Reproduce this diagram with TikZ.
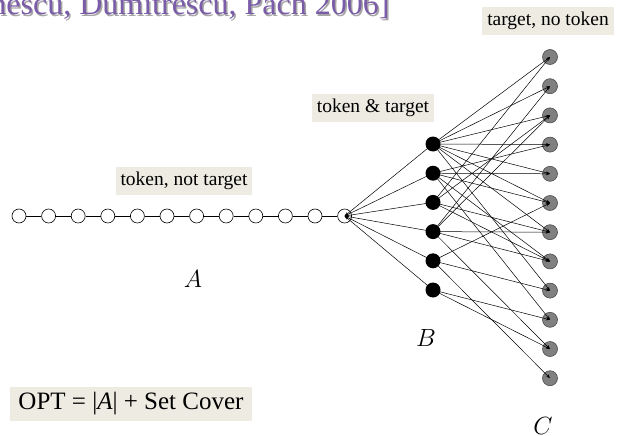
\documentclass[tikz,border=0pt]{standalone}
\usepackage{fontspec}
\setmainfont{Liberation Serif}
\usetikzlibrary{arrows.meta}
\definecolor{lblbg}{HTML}{EDEBE2}
\definecolor{ttl}{HTML}{7A5CA8}
\begin{document}
\begin{tikzpicture}[x=1pt,y=-1pt,
 anode/.style={circle,draw,fill=white,minimum size=14pt,inner sep=0pt,line width=0.6pt},
 bnode/.style={circle,fill=black,minimum size=15pt,inner sep=0pt},
 cnode/.style={circle,draw=black!70,fill=black!50,minimum size=15pt,inner sep=0pt,line width=0.6pt},
 edge/.style={line width=0.5pt,-{Stealth[length=4pt,width=3pt]}},
 lbl/.style={fill=lblbg,inner xsep=5pt,inner ysep=5pt,font=\fontsize{19.5}{21}\selectfont},
 big/.style={font=\fontsize{30}{32}\selectfont}]
\useasboundingbox (0,0) rectangle (618,436);
\clip (0,0) rectangle (618,436);
% title (cut off at the top)
\node[anchor=base east,text=black!35,font=\fontsize{32}{36}\selectfont] (tsh) at (394.5,16.5) {[Călinescu, Dumitrescu, Pach 2006]};
\node[anchor=base east,text=ttl,font=\fontsize{32}{36}\selectfont] (title) at (393,15) {[Călinescu, Dumitrescu, Pach 2006]};
% chain A
\foreach \i in {1,...,12} \node[anode] (a\i) at ({19+(\i-1)*29.6},216) {};
\foreach \i [evaluate=\i as \j using int(\i+1)] in {1,...,11} \draw[line width=0.6pt] (a\i) -- (a\j);
% B and C
\foreach \i in {1,...,6} \node[bnode] (b\i) at (433,{144+(\i-1)*29.2}) {};
\foreach \i in {1,...,12} \node[cnode] (c\i) at (550,{57+(\i-1)*29.2}) {};
% edges B -> last A
\foreach \i in {1,...,6} \draw[edge] (b\i.center) -- (a12.center);
% edges B -> C
\foreach \b/\c in {1/1,1/2,1/3,1/4,1/5,1/6,1/7,1/9,
                   2/4,2/5,2/6,2/8,2/10,
                   3/1,3/3,3/7,3/8,
                   4/2,4/3,4/7,4/8,4/11,
                   5/6,5/9,5/12,
                   6/10,6/11}
  \draw[edge] (b\b.center) -- (c\c.center);
% labels
\node[lbl] (l1) at (184,181) {token, not target};
\node[lbl] (l2) at (373,108) {token \& target};
\node[lbl] (l3) at (548,21) {target, no token};
\node[lbl,font=\fontsize{25}{27}\selectfont,inner ysep=6pt,inner xsep=8pt] (opt) at (131,404) {OPT = |\textit{A}| + Set Cover};
\node[big] (la) at (193,279) {$A$};
\node[big] (lb) at (426,338) {$B$};
\node[big] (lc) at (543,426) {$C$};
\end{tikzpicture}
\end{document}
